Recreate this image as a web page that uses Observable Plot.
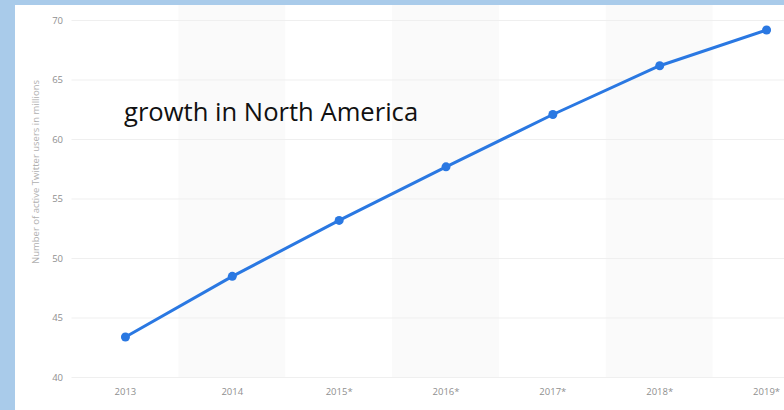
<!DOCTYPE html>
<html>
<head>
<meta charset="utf-8">
<script src="https://cdn.jsdelivr.net/npm/d3@7"></script>
<script src="https://cdn.jsdelivr.net/npm/@observablehq/plot@0.6"></script>
<style>
  html, body { margin: 0; padding: 0; width: 784px; height: 410px; overflow: hidden; background: #a9cbea; }
  #panel { position: absolute; left: 15px; top: 5px; width: 769px; height: 405px; background: #ffffff; overflow: hidden; }
  #panel svg { max-width: none !important; overflow: hidden; display: block; }
  #note { position: absolute; left: 109px; top: 88.5px; font-family: "Open Sans", sans-serif; font-size: 25.6px; color: #111; white-space: nowrap; }
  #ytitle { position: absolute; left: 20px; top: 167px; width: 0; height: 0; }
  #ytitle span { position: absolute; transform: translate(-50%, -50%) rotate(-90deg); white-space: nowrap; font-family: "Open Sans", sans-serif; font-size: 9.5px; color: #b0b0b0; }
</style>
</head>
<body>
<div id="panel">
  <div id="chart"></div>
  <div id="note">growth in North America</div>
  <div id="ytitle"><span>Number of active Twitter users in millions</span></div>
</div>
<script>
const years = ["2013", "2014", "2015*", "2016*", "2017*", "2018*", "2019*"];
const users = [43.4, 48.5, 53.2, 57.7, 62.1, 66.2, 69.2];
const shadedYears = ["2014", "2016*", "2018*"];
const yTicks = [40, 45, 50, 55, 60, 65, 70];

const data = years.map((y, i) => ({year: y, value: users[i]}));

const chart = Plot.plot({
  width: 830,
  height: 405,
  marginLeft: 56.5,
  marginRight: 25.5,
  marginTop: 15,
  marginBottom: 33,
  style: {fontFamily: "'Open Sans', sans-serif", fontSize: "9.5px", color: "#8a8a8a", background: "transparent", maxWidth: "none"},
  x: {type: "band", domain: years, padding: 0, round: false, label: null},
  y: {domain: [40, 70], label: null},
  marks: [
    Plot.barY(shadedYears, {x: d => d, y1: 40, y2: 70, insetTop: -15, fill: "#fafafa"}),
    Plot.ruleY(yTicks, {stroke: "#efefef", strokeWidth: 1}),
    Plot.axisY({ticks: yTicks, tickSize: 0, tickPadding: 9, label: null, fill: "#8f8f8f"}),
    Plot.axisX({tickSize: 0, tickPadding: 11, label: null, fill: "#8f8f8f"}),
    Plot.line(data, {x: "year", y: "value", stroke: "#2a78e2", strokeWidth: 3}),
    Plot.dot(data, {x: "year", y: "value", r: 4.5, fill: "#2a78e2"})
  ]
});
document.getElementById("chart").appendChild(chart);
</script>
</body>
</html>
